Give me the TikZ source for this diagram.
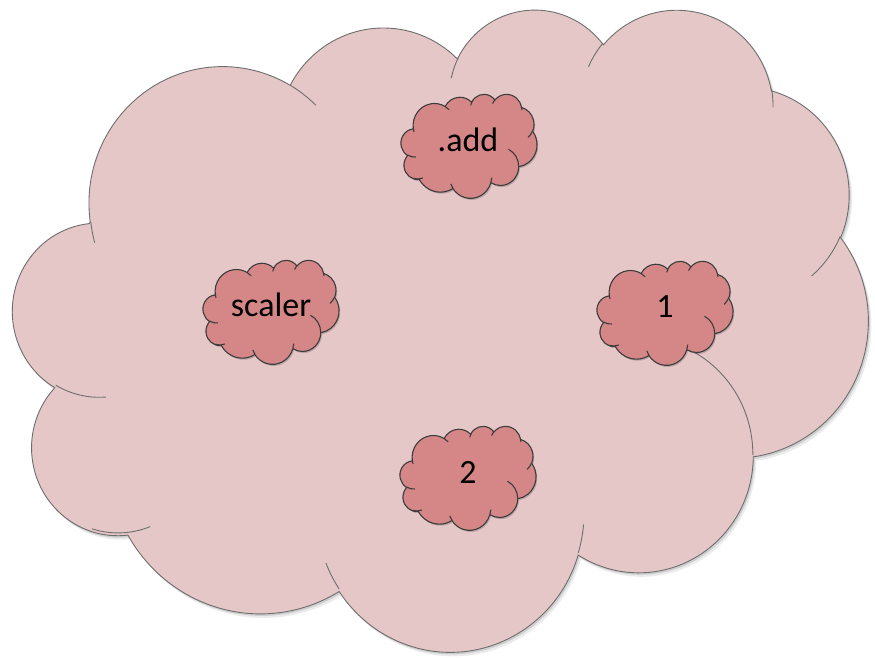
\documentclass[tikz,border=0pt]{standalone}
\usepackage{fontspec}
\setmainfont{Carlito}
\definecolor{bigpink}{HTML}{E6C7C8}
\definecolor{biggray}{HTML}{6E6E6E}
\definecolor{smallpink}{HTML}{D58787}
\definecolor{smallline}{HTML}{3C3C3C}
\tikzset{
  carc/.style n args={4}{insert path={arc[x radius=#1, y radius=#2,
      start angle={atan2((#1)*sin(#3),(#2)*cos(#3))},
      delta angle={mod(atan2((#1)*sin((#3)+(#4)),(#2)*cos((#3)+(#4)))-atan2((#1)*sin(#3),(#2)*cos(#3))+720,360)}]}},
  bigcloud/.style={fill=bigpink, draw=biggray, line width=0.9pt},
  bigarcs/.style={draw=biggray, line width=0.9pt},
  bigshadow/.style={fill=black, fill opacity=0.12},
  smallcloud/.style={fill=smallpink, draw=smallline, line width=1.1pt},
  smallarcs/.style={draw=smallline, line width=1.1pt},
  smallshadow/.style={fill=black, fill opacity=0.18},
  lbl/.style={anchor=base, inner sep=0pt, font=\fontsize{34}{40}\selectfont}
}
\newcommand\cloudpath{(39,143.7) [carc={67.53}{91.90}{-190.4875}{123.7805}] [carc={53.33}{72.67}{-144.1024}{89.9452}] [carc={43.65}{59.45}{-145.8079}{99.7230}] [carc={48.57}{65.95}{-130.9861}{117.2417}] [carc={53.33}{72.73}{-78.7089}{109.0269}] [carc={67.75}{92.20}{-46.2673}{130.2690}] [carc={57.85}{78.67}{0.6250}{114.0333}] [carc={67.52}{92.15}{22.4516}{115.1726}] [carc={77.20}{105.43}{66.2426}{75.7110}] [carc={43.60}{59.18}{-274.9421}{146.7356}] [carc={43.45}{59.45}{-246.8285}{152.5189}] -- cycle}
\newcommand\cloudinner{(46.93,261.77) [carc={43.45}{59.45}{86.7420}{26.4295}] (69.28,348.99) [carc={43.60}{59.18}{73.6031}{29.5265}] (164.78,390.90) [carc={67.52}{92.15}{137.6242}{14.0811}] (288.27,347.51) [carc={67.52}{92.15}{6.4533}{15.9984}] (341.29,229.54) [carc={57.85}{78.67}{-70.2924}{70.9174}] (417.98,153.54) [carc={53.33}{72.73}{30.3180}{27.7515}] (383.24,54.26) [carc={48.57}{65.95}{-13.7443}{14.8589}] (290.78,39.52) [carc={48.57}{65.95}{-149.1815}{18.1954}] (221.41,47.20) [carc={43.65}{59.45}{-163.4943}{17.6864}] (140.00,51.92) [carc={67.53}{91.90}{-66.7070}{12.3194}] (41.27,157.89) [carc={67.53}{91.90}{159.6197}{11.8632}]}
\newcommand\smallcloudat[2]{%
  \begin{scope}[shift={(#1+1.2,#2+1.6)}, x=0.3148pt, y=-0.2407pt]
    \path[smallshadow] \cloudpath;
  \end{scope}
  \begin{scope}[shift={(#1,#2)}, x=0.3148pt, y=-0.2407pt]
    \path[smallcloud] \cloudpath;
    \path[smallarcs] \cloudinner;
  \end{scope}}
\begin{document}
\begin{tikzpicture}[x=1pt, y=-1pt]
  \useasboundingbox (0,0) rectangle (875,657);
  \fill[white] (0,0) rectangle (875,657);
  % large cloud shadow
  \begin{scope}[shift={(16,12)}, x=1.9792pt, y=-1.4861pt]
    \path[bigshadow, fill opacity=0.08] \cloudpath;
  \end{scope}
  \begin{scope}[shift={(14.5,10)}, x=1.9792pt, y=-1.4861pt]
    \path[bigshadow] \cloudpath;
  \end{scope}
  % large cloud
  \begin{scope}[shift={(13,8)}, x=1.9792pt, y=-1.4861pt]
    \path[bigcloud] \cloudpath;
    \path[bigarcs] \cloudinner;
  \end{scope}
  % small clouds
  \smallcloudat{401}{94}
  \smallcloudat{203}{260}
  \smallcloudat{597}{261}
  \smallcloudat{400}{426}
  \node[lbl] (add) at (468,151) {.add};
  \node[lbl] (scaler) at (271,316) {scaler};
  \node[lbl] (one) at (665,317) {1};
  \node[lbl] (two) at (468,483) {2};
\end{tikzpicture}
\end{document}
